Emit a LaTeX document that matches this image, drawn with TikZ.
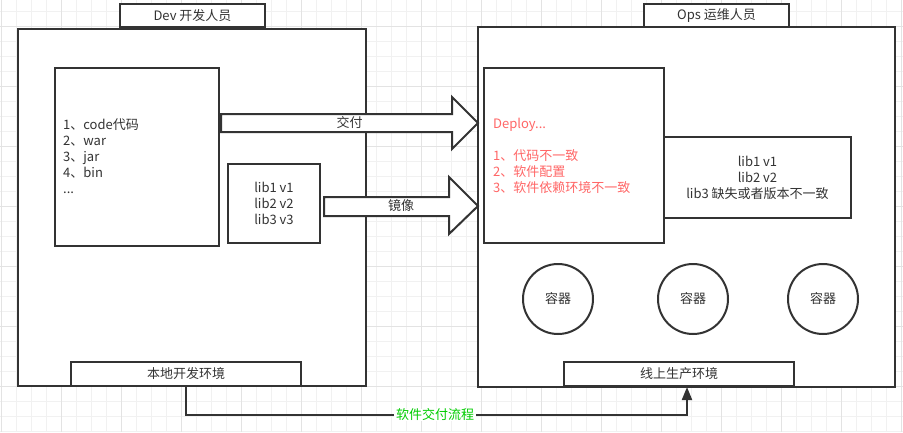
\documentclass[tikz,border=0pt]{standalone}
\usepackage{fontspec}
\setmainfont{Noto Sans CJK SC}
\usetikzlibrary{arrows.meta}
\definecolor{ink}{HTML}{333333}
\definecolor{warn}{HTML}{FF6666}
\definecolor{flow}{HTML}{00CC00}
\definecolor{gridminor}{HTML}{F1F1F1}
\definecolor{gridmajor}{HTML}{E3E3E3}
\tikzset{
  box/.style={draw=ink, line width=2pt, fill=white, inner sep=0pt, anchor=north west, text=ink},
  label/.style={font=\fontsize{13}{16}\selectfont, text=ink, inner sep=0pt},
  blockarrow/.style={draw=ink, line width=2pt, fill=white, line join=miter},
  container/.style={draw=ink, line width=2pt, fill=white, circle, minimum size=70pt, inner sep=0pt, text=ink, font=\fontsize{13}{16}\selectfont},
  conn/.style={draw=ink, line width=2pt, -{Triangle[length=13pt,width=10pt]}},
}
\begin{document}
\begin{tikzpicture}[x=1pt,y=-1pt]
\useasboundingbox (0,0) rectangle (903,432);
\fill[white] (0,0) rectangle (903,432);
% grid
\foreach \x in {1.7,16.7,...,903} \draw[gridminor, line width=1pt] (\x,0) -- (\x,432);
\foreach \y in {11.7,26.7,...,432} \draw[gridminor, line width=1pt] (0,\y) -- (903,\y);
\foreach \x in {1.7,61.7,...,903} \draw[gridmajor, line width=1pt] (\x,0) -- (\x,432);
\foreach \y in {26.7,86.7,...,432} \draw[gridmajor, line width=1pt] (0,\y) -- (903,\y);

% Dev side
\node[box, minimum width=348pt, minimum height=357pt] (dev) at (17,28) {};
\node[box, minimum width=145pt, minimum height=23pt] (devtitle) at (119,3) {};
\node[label] (devtitletext) at (devtitle.center) {Dev 开发人员};
\node[box, minimum width=164pt, minimum height=178pt] (code) at (54,67) {};
\node[label, anchor=west, align=left] (codetext) at (63,156) {1、code代码\\2、war\\3、jar\\4、bin\\...};
\node[box, minimum width=92pt, minimum height=79pt] (libdev) at (227,163) {};
\node[label, align=center] (libdevtext) at (libdev.center) {lib1 v1\\lib2 v2\\lib3 v3};
\node[box, minimum width=230pt, minimum height=24pt] (localenv) at (70,361) {};
\node[label] (localenvtext) at (localenv.center) {本地开发环境};

% Ops side
\node[box, minimum width=417pt, minimum height=360pt] (ops) at (477,26) {};
\node[box, minimum width=145pt, minimum height=23pt] (opstitle) at (643,3) {};
\node[label] (opstitletext) at (opstitle.center) {Ops 运维人员};
\node[box, minimum width=180pt, minimum height=175pt] (deploy) at (483,67) {};
\node[label, anchor=west, align=left, text=warn] (deploytext) at (493,155.5) {Deploy...\\\mbox{}\\1、代码不一致\\2、软件配置\\3、软件依赖环境不一致};
\node[box, minimum width=187pt, minimum height=81pt] (libops) at (663,136) {};
\node[label, align=center] (libopstext) at (libops.center) {lib1 v1\\lib2 v2\\lib3 缺失或者版本不一致};
\node[container] (c1) at (558,299) {容器};
\node[container] (c2) at (693,299) {容器};
\node[container] (c3) at (823,299) {容器};
\node[box, minimum width=230pt, minimum height=24pt] (prodenv) at (563,361) {};
\node[label] (prodenvtext) at (prodenv.center) {线上生产环境};

% block arrows
\draw[blockarrow] (221,114) -- (452,114) -- (452,97) -- (478,123) -- (452,149) -- (452,132) -- (221,132) -- cycle;
\node[label] (jiaofu) at (349.5,123) {交付};
\draw[blockarrow] (324,197) -- (449,197) -- (449,177) -- (478,206) -- (449,234) -- (449,216) -- (324,216) -- cycle;
\node[label] (jingxiang) at (401,206) {镜像};

% flow connector
\coordinate (turn) at (687,415);
\draw[conn] (localenv.south) |- (turn) -- (turn |- prodenv.south);
\node[label, text=flow, fill=white, inner xsep=2pt] (flowtext) at (435,415) {软件交付流程};
\end{tikzpicture}
\end{document}
